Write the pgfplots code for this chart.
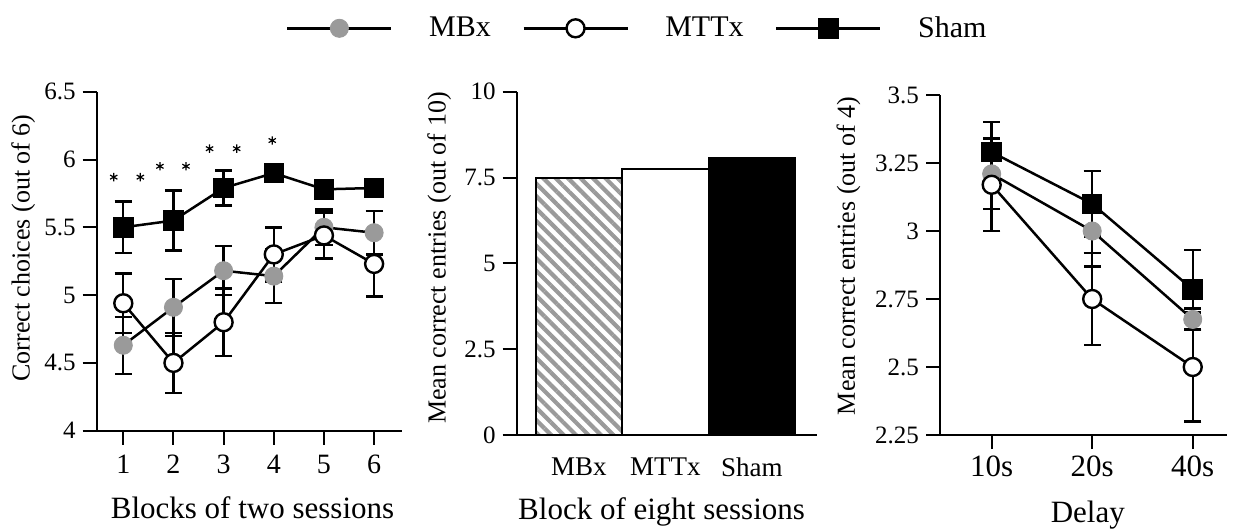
\documentclass[border=0pt]{standalone}
\usepackage{pgfplots}
\pgfplotsset{compat=1.18}
\usepackage{pgfplotstable}
\usepackage{fontspec}
\setmainfont{Liberation Serif}
\usetikzlibrary{patterns.meta}
\definecolor{mbgray}{HTML}{9A9A9A}

\pgfplotstableread{
x y e
1 4.63 0.21
2 4.91 0.21
3 5.18 0.18
4 5.14 0.20
5 5.50 0.13
6 5.46 0.16
}\leftMB
\pgfplotstableread{
x y e
1 4.94 0.22
2 4.50 0.22
3 4.80 0.25
4 5.30 0.20
5 5.44 0.17
6 5.23 0.24
}\leftMT
\pgfplotstableread{
x y e
1 5.50 0.19
2 5.55 0.22
3 5.79 0.13
4 5.90 0.05
5 5.78 0.05
6 5.79 0.05
}\leftSH
\pgfplotstableread{
x y e
1 3.21 0.13
2 3.00 0.13
3 2.675 0.04
}\rightMB
\pgfplotstableread{
x y e
1 3.17 0.17
2 2.75 0.17
3 2.50 0.20
}\rightMT
\pgfplotstableread{
x y e
1 3.29 0.11
2 3.10 0.12
3 2.785 0.145
}\rightSH

\pgfplotsset{
  panel/.style={
    scale only axis,
    axis lines=left,
    axis line style={-, line width=1pt},
    tick style={line width=1pt, black},
    tick align=outside,
    major tick length=7pt,
    /pgf/number format/assume math mode=true,
    yticklabel style={font=\fontsize{12.5}{14}\selectfont},
    ylabel style={font=\fontsize{13}{15}\selectfont, anchor=center},
    xlabel style={font=\fontsize{15.5}{17}\selectfont, anchor=center},
  },
  errs/.style={error bars/.cd, y dir=both, y explicit,
    error bar style={line width=1.2pt, black},
    error mark options={rotate=90, line width=1.2pt, mark size=4.3pt, black}},
  mbline/.style={black, line width=1.25pt, mark=*, mark size=4.5pt,
    mark options={fill=mbgray, draw=mbgray, line width=0.5pt}},
  mtline/.style={black, line width=1.25pt, mark=*, mark size=4.5pt,
    mark options={fill=white, draw=black, line width=1.2pt}},
  shline/.style={black, line width=1.25pt, mark=square*, mark size=4.5pt,
    mark options={fill=black, draw=black}},
}

\begin{document}
\begin{tikzpicture}
\path[use as bounding box] (0,0) rectangle (618.5pt,-265.5pt);

% Left panel
\begin{axis}[panel,
  at={(48.35pt,-45.85pt)}, anchor=north west,
  width=152.5pt, height=169.5pt,
  xmin=0.47, xmax=6.55, ymin=4, ymax=6.5,
  xtick={1,2,3,4,5,6},
  ytick={4,4.5,5,5.5,6,6.5},
  xticklabel style={font=\fontsize{14}{16}\selectfont, yshift=-1.5pt},
  ylabel={Correct choices (out of 6)},
  ylabel style={at={(axis description cs:-0.241,0.539)}},
  xlabel={Blocks of two sessions},
  xlabel style={at={(axis description cs:0.511,-0.228)}},
  legend columns=3,
  legend style={draw=none, fill=none, inner sep=0pt,
    at={(axis description cs:0.6197,1.187)}, anchor=west,
    font=\fontsize{15}{17}\selectfont,
    nodes={inner sep=0pt},
    /tikz/every even column/.append style={column sep=15.75pt},
    /tikz/every odd column/.append style={column sep=18.25pt}},
  legend image code/.code={\draw[mark repeat=2,mark phase=2] plot coordinates {(0pt,0pt) (26pt,0pt) (52pt,0pt)};},
]
\addplot[mbline, errs] table[x=x, y=y, y error=e] {\leftMB};
\addlegendentry{MBx}
\addplot[mtline, errs] table[x=x, y=y, y error=e] {\leftMT};
\addlegendentry{MTTx}
\addplot[shline, errs] table[x=x, y=y, y error=e] {\leftSH};
\addlegendentry{Sham}
\addplot[only marks, mark=asterisk, mark size=2.1pt, line width=0.6pt, black, forget plot] coordinates {
(0.81,5.87) (1.34,5.87) (1.73,5.95) (2.25,5.95) (2.72,6.08) (3.26,6.08) (3.97,6.14)};
\end{axis}

% Middle panel
\begin{axis}[panel,
  at={(258.35pt,-45.85pt)}, anchor=north west,
  width=150pt, height=171.65pt,
  xmin=0.28, xmax=3.75, ymin=0, ymax=10,
  xtick={1,2,3}, xticklabels={MBx,MTTx,Sham},
  x tick style={draw=none},
  xticklabel style={font=\fontsize{13.5}{15}\selectfont, yshift=-1pt},
  ytick={0,2.5,5,7.5,10},
  ylabel={Mean correct entries (out of 10)},
  ylabel style={at={(axis description cs:-0.258,0.5156)}},
  xlabel={Block of eight sessions},
  xlabel style={at={(axis description cs:0.483,-0.2234)}},
]
\addplot[ybar, bar width=1, bar shift=0, draw=black, line width=1pt,
  pattern={Lines[angle=-45, distance=4.4pt, line width=2.1pt]}, pattern color=mbgray]
  coordinates {(1,7.48)};
\addplot[ybar, bar width=1, bar shift=0, draw=black, line width=1pt, fill=white]
  coordinates {(2,7.75)};
\addplot[ybar, bar width=1, bar shift=0, draw=black, line width=1pt, fill=black]
  coordinates {(3,8.06)};
\end{axis}

% Right panel
\begin{axis}[panel,
  at={(470pt,-47.5pt)}, anchor=north west,
  width=143.35pt, height=170pt,
  xmin=0.486, xmax=3.338, ymin=2.25, ymax=3.5,
  xtick={1,2,3}, xticklabels={10s,20s,40s},
  xticklabel style={font=\fontsize{15.5}{17}\selectfont},
  ytick={2.25,2.5,2.75,3,3.25,3.5},
  yticklabels={2.25,2.5,2.75,3,3.25,3.5},
  ylabel={Mean correct entries (out of 4)},
  ylabel style={at={(axis description cs:-0.3195,0.527)}},
  xlabel={Delay},
  xlabel style={at={(axis description cs:0.5157,-0.235)}},
]
\addplot[mbline, errs] table[x=x, y=y, y error=e] {\rightMB};
\addplot[mtline, errs] table[x=x, y=y, y error=e] {\rightMT};
\addplot[shline, errs] table[x=x, y=y, y error=e] {\rightSH};
\end{axis}
\end{tikzpicture}
\end{document}
